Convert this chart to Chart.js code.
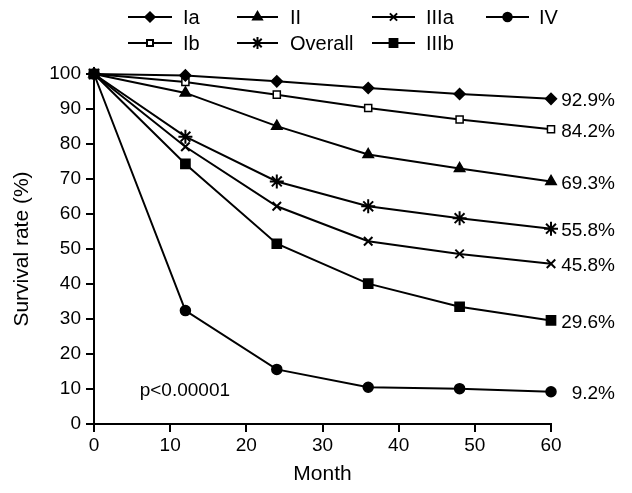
<!DOCTYPE html>
<html>
<head>
<meta charset="utf-8">
<script src="https://cdn.jsdelivr.net/npm/chart.js@4/dist/chart.umd.min.js"></script>
<style>
  body { margin: 0; background: #fff; }
  canvas { display: block; }
</style>
</head>
<body>
<canvas id="survival" width="632" height="493"></canvas>
<script>
// months of follow-up
const months = [0, 12, 24, 36, 48, 60];

// survival rate (%) per stage
const stageIa = [100, 99.6, 97.9, 96.0, 94.3, 92.9];
const stageIb = [100, 97.7, 94.1, 90.3, 87.0, 84.2];
const stageII = [100, 94.6, 85.1, 77.0, 73.0, 69.3];
const overall = [100, 82.1, 69.3, 62.2, 58.8, 55.8];
const stageIIIa = [100, 79.2, 62.2, 52.2, 48.6, 45.8];
const stageIIIb = [100, 74.3, 51.5, 40.1, 33.5, 29.6];
const stageIV = [100, 32.4, 15.6, 10.5, 10.1, 9.2];

const seriesNames = ["Ia", "Ib", "II", "Overall", "IIIa", "IIIb", "IV"];
const seriesValues = [stageIa, stageIb, stageII, overall, stageIIIa, stageIIIb, stageIV];
const endLabels = ["92.9%", "84.2%", "69.3%", "55.8%", "45.8%", "29.6%", "9.2%"];

const xTicks = [0, 10, 20, 30, 40, 50, 60];
const yTicks = [0, 10, 20, 30, 40, 50, 60, 70, 80, 90, 100];

// marker look for each series
const markers = [
  { style: "rectRot", radius: 5.5, fill: "#000", border: 1.5 },
  { style: "rect", radius: 5, fill: "#fff", border: 1.5 },
  { style: "triangle", radius: 6, fill: "#000", border: 1.5 },
  { style: "star", radius: 7, fill: "#000", border: 2 },
  { style: "crossRot", radius: 6, fill: "#000", border: 2 },
  { style: "rect", radius: 6.5, fill: "#000", border: 1.5 },
  { style: "circle", radius: 5, fill: "#000", border: 1.5 }
];

// legend slot for each series: [lineStart, lineEnd, textX, y]
const legendSlots = [
  [128, 172, 183, 17],
  [128, 172, 183, 43],
  [237, 278, 290, 17],
  [237, 278, 290, 43],
  [372, 415, 426, 17],
  [372, 415, 426, 43],
  [486, 529, 539, 17]
];

const FONT = "'Liberation Sans', Arial, Helvetica, sans-serif";
Chart.defaults.font.family = FONT;
Chart.defaults.font.size = 19;
Chart.defaults.color = "#000";

const datasets = seriesNames.map((name, i) => ({
  label: name,
  data: months.map((m, j) => ({ x: m, y: seriesValues[i][j] })),
  borderColor: "#000",
  borderWidth: 2,
  pointStyle: markers[i].style,
  pointRadius: markers[i].radius,
  pointBackgroundColor: markers[i].fill,
  pointBorderColor: "#000",
  pointBorderWidth: markers[i].border,
  clip: false,
  tension: 0
}));

const extras = {
  id: "extras",
  afterDraw(chart) {
    const ctx = chart.ctx;
    const area = chart.chartArea;
    const xs = chart.scales.x;
    const ys = chart.scales.y;
    ctx.save();
    ctx.fillStyle = "#000";
    ctx.font = "19px " + FONT;
    ctx.textBaseline = "middle";

    // labels at the end of each curve
    ctx.textAlign = "right";
    chart.data.datasets.forEach((ds, i) => {
      const pts = chart.getDatasetMeta(i).data;
      const last = pts[pts.length - 1];
      ctx.fillText(endLabels[i], area.right + 64, last.y + 2);
    });

    // p value
    ctx.textAlign = "left";
    ctx.fillText("p<0.00001", xs.getPixelForValue(6), ys.getPixelForValue(9.5));

    // legend
    ctx.font = "20px " + FONT;
    chart.data.datasets.forEach((ds, i) => {
      const [x1, x2, tx, y] = legendSlots[i];
      ctx.strokeStyle = "#000";
      ctx.lineWidth = 2;
      ctx.beginPath();
      ctx.moveTo(x1, y);
      ctx.lineTo(x2, y);
      ctx.stroke();
      ctx.fillStyle = markers[i].fill;
      Chart.helpers.drawPoint(ctx, {
        pointStyle: markers[i].style,
        radius: markers[i].radius * 0.85,
        rotation: 0,
        borderWidth: markers[i].border
      }, (x1 + x2) / 2, y);
      ctx.fillStyle = "#000";
      ctx.fillText(ds.label, tx, y + 1);
    });
    ctx.restore();
  }
};

new Chart(document.getElementById("survival"), {
  type: "line",
  data: { datasets: datasets },
  options: {
    responsive: false,
    animation: false,
    devicePixelRatio: 1,
    layout: { padding: { top: 74, right: 81, left: 0, bottom: 0 } },
    plugins: { legend: { display: false }, tooltip: { enabled: false } },
    scales: {
      x: {
        type: "linear",
        min: 0,
        max: 60,
        afterFit: s => { s.height = 69; },
        afterBuildTicks: s => { s.ticks = xTicks.map(v => ({ value: v })); },
        ticks: { padding: 2, maxRotation: 0 },
        grid: { drawOnChartArea: false, drawTicks: true, tickLength: 8, color: "#000", lineWidth: 2 },
        border: { color: "#000", width: 2 },
        title: { display: true, text: "Month", font: { size: 21 }, padding: { bottom: 6 } }
      },
      y: {
        min: 0,
        max: 100,
        afterFit: s => { s.width = 94; },
        afterBuildTicks: s => { s.ticks = yTicks.map(v => ({ value: v })); },
        ticks: { padding: 5 },
        grid: { drawOnChartArea: false, drawTicks: true, tickLength: 8, color: "#000", lineWidth: 2 },
        border: { color: "#000", width: 2 },
        title: { display: true, text: "Survival rate (%)", font: { size: 21 }, padding: { top: 10 } }
      }
    }
  },
  plugins: [extras]
});
</script>
</body>
</html>
